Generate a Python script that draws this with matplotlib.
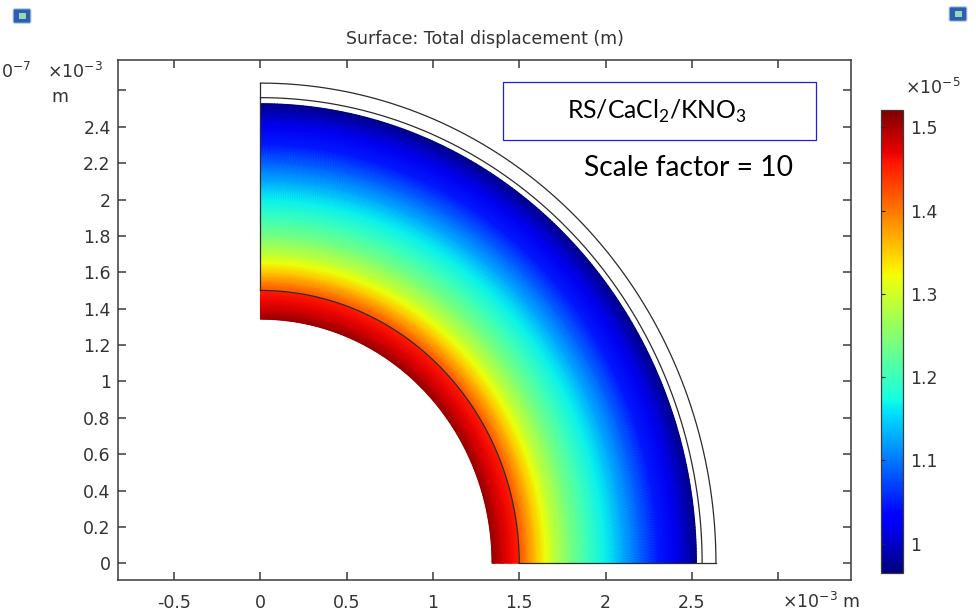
import numpy as np
import matplotlib
matplotlib.use("Agg")
import matplotlib.pyplot as plt
from matplotlib.patches import Rectangle, FancyBboxPatch

# ---------------- data ----------------
# radial profile of total displacement (x1e-5 m) across the deformed domain (x1e-3 m)
radii = [1.342, 1.40, 1.45, 1.499, 1.501, 1.55, 1.60, 1.65, 1.70, 1.80,
         1.90, 2.00, 2.10, 2.20, 2.30, 2.40, 2.45, 2.50, 2.527]
disp = [1.51, 1.48, 1.465, 1.453, 1.42, 1.387, 1.353, 1.32, 1.287, 1.237,
        1.198, 1.165, 1.126, 1.087, 1.048, 1.02, 1.004, 0.982, 0.970]
vmin, vmax = 0.965, 1.521

# undeformed geometry outline (x1e-3 m)
arc_radii = [1.5, 2.56, 2.64]
edge_start, edge_end = 1.5, 2.64

xticks = [-0.5, 0, 0.5, 1, 1.5, 2, 2.5, 3]
xticklabels = ["-0.5", "0", "0.5", "1", "1.5", "2", "2.5", ""]
yticks = [0, 0.2, 0.4, 0.6, 0.8, 1.0, 1.2, 1.4, 1.6, 1.8, 2.0, 2.2, 2.4, 2.6]
yticklabels = ["0", "0.2", "0.4", "0.6", "0.8", "1", "1.2", "1.4", "1.6",
               "1.8", "2", "2.2", "2.4", ""]
cbticks = [1.0, 1.1, 1.2, 1.3, 1.4, 1.5]
cblabels = ["1", "1.1", "1.2", "1.3", "1.4", "1.5"]

title = "Surface: Total displacement (m)"
box_text = "RS/CaCl$_\\mathregular{2}$/KNO$_\\mathregular{3}$"
scale_text = "Scale factor = 10"

# ---------------- figure ----------------
W, H = 976, 613
fig = plt.figure(figsize=(W / 100, H / 100), dpi=100)
fig.patch.set_facecolor("white")

def fx(px):
    return px / W

def fy(py):
    return 1 - py / H

txt_col = "#333333"
spine_col = "#3a3a3a"

ax = fig.add_axes([fx(118.3), fy(580), fx(850.7) - fx(118.3), fy(60) - fy(580)])
ax.set_xlim(-0.824, 3.421)
ax.set_ylim(-0.092, 2.767)

th = np.linspace(0, np.pi / 2, 241)
R, TH = np.meshgrid(np.array(radii), th)
C = np.broadcast_to(np.array(disp), R.shape)
mesh = ax.pcolormesh(R * np.cos(TH), R * np.sin(TH), C, shading="gouraud",
                     cmap="jet", vmin=vmin, vmax=vmax, rasterized=True)

line_col = "#2b2b2b"
for r in arc_radii:
    ax.plot(r * np.cos(th), r * np.sin(th), color=line_col, lw=0.9)
ax.plot([0, 0], [edge_start, edge_end], color=line_col, lw=0.9)
ax.plot([edge_start, edge_end], [0, 0], color=line_col, lw=0.9)

ax.set_xticks(xticks)
ax.set_xticklabels(xticklabels)
ax.set_yticks(yticks)
ax.set_yticklabels(yticklabels)
ax.tick_params(direction="in", length=6, width=1.1, color=spine_col,
               top=True, right=True, labelsize=12.5, labelcolor=txt_col)
ax.tick_params(axis="y", pad=5.5)
ax.tick_params(axis="x", pad=10)
for s in ax.spines.values():
    s.set_color(spine_col)
    s.set_linewidth(1.1)

# annotation box
ax.add_artist(Rectangle((fx(502.5), fy(140)), fx(815.7) - fx(502.5), fy(81.7) - fy(140),
                        transform=fig.transFigure, fill=False, edgecolor="#1f1fe0",
                        lw=0.9, zorder=5))
fig.text(fx(657), fy(111), box_text, ha="center", va="center", fontsize=17.8,
         family="Lato", color="black")
fig.text(fx(689), fy(168), scale_text, ha="center", va="center", fontsize=20.3,
         family="Lato", color="black")

# title and unit labels
fig.text(fx(485), fy(39.5), title, ha="center", va="center", fontsize=12.5, color=txt_col)
fig.text(fx(103), fy(72), r"$\times10^{-3}$", ha="right", va="center", fontsize=12.5, color=txt_col)
fig.text(fx(60), fy(97), "m", ha="center", va="center", fontsize=12.5, color=txt_col)
fig.text(fx(782), fy(602), r"$\times10^{-3}$ m", ha="left", va="center", fontsize=12.5, color=txt_col)
# visible remainder of the neighbouring plot's scale label at the left edge
fig.text(fx(1), fy(72), r"$0^{-7}$", ha="left", va="center", fontsize=12.5, color=txt_col)

# colorbar
cax = fig.add_axes([fx(880.7), fy(572.7), fx(903.3) - fx(880.7), fy(110) - fy(572.7)])
cb = fig.colorbar(mesh, cax=cax)
cb.set_ticks(cbticks)
cb.set_ticklabels(cblabels)
cb.outline.set_edgecolor(spine_col)
cb.outline.set_linewidth(0.9)
cax.tick_params(axis="y", direction="in", length=3, width=0.8, color="#222222",
                left=True, right=False, labelright=True, labelleft=False,
                labelsize=12.5, labelcolor=txt_col, pad=5)
fig.text(fx(905), fy(88), r"$\times10^{-5}$", ha="left", va="center", fontsize=12.5, color=txt_col)

# small window icons
for cxp, cyp in [(22, 16), (958, 14)]:
    fig.patches.append(FancyBboxPatch((fx(cxp - 7), fy(cyp + 6)), fx(14), 12 / H,
                                      boxstyle="round,pad=0.002", transform=fig.transFigure,
                                      facecolor="#2d5fae", edgecolor="#bcd0e8", lw=0.8))
    fig.patches.append(Rectangle((fx(cxp - 3), fy(cyp + 3)), fx(7), 6 / H,
                                 transform=fig.transFigure, facecolor="#9ad6b8",
                                 edgecolor="none"))

fig.savefig("out.png", dpi=100)
